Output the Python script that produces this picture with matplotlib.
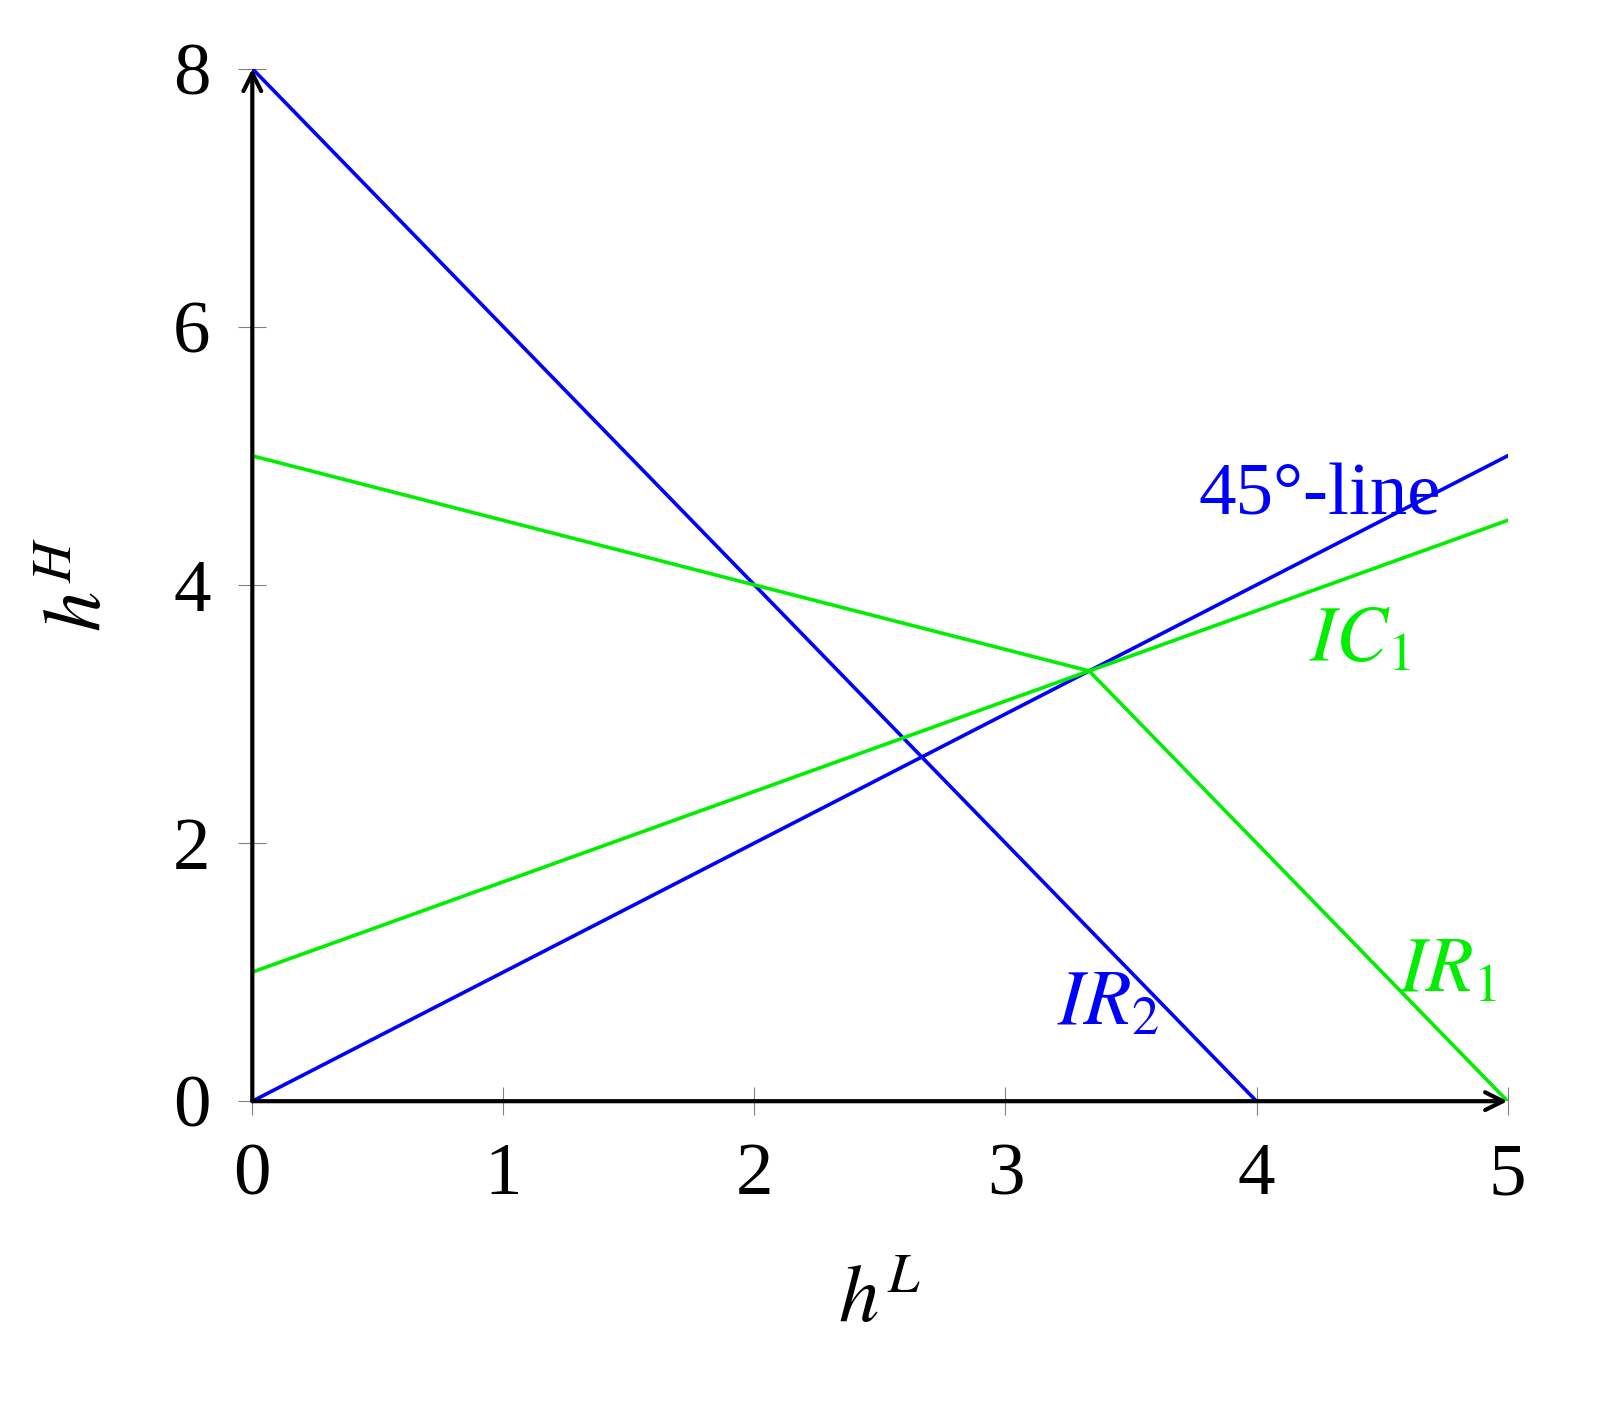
import matplotlib
matplotlib.use("Agg")
import matplotlib.pyplot as plt

plt.rcParams['font.family'] = ['Liberation Serif', 'DejaVu Serif']
plt.rcParams['mathtext.fontset'] = 'stix'

ir2_x = [0, 4]; ir2_y = [8, 0]
line45_x = [0, 5]; line45_y = [0, 5]
ic1_x = [0, 5]; ic1_y = [1, 4.5]
ir1_x = [0, 10/3, 5]; ir1_y = [5, 10/3, 0]
xticks = [0, 1, 2, 3, 4, 5]
yticks = [0, 2, 4, 6, 8]

blue = '#0000ff'; green = '#00ee00'
fig = plt.figure(figsize=(15.97, 14.01), dpi=100)
ax = fig.add_axes([0.158, 0.214, 0.786, 0.737])
ax.plot(ir2_x, ir2_y, color=blue, lw=2.6)
ax.plot(line45_x, line45_y, color=blue, lw=2.6)
ax.plot(ic1_x, ic1_y, color=green, lw=2.6)
ax.plot(ir1_x, ir1_y, color=green, lw=2.6)
ax.set_xlim(0, 5); ax.set_ylim(0, 8)
for s in ax.spines.values():
    s.set_visible(False)
ax.annotate('', xy=(5, 0), xytext=(0, 0), arrowprops=dict(arrowstyle='->', lw=3, color='black', mutation_scale=32, shrinkA=0, shrinkB=0), annotation_clip=False)
ax.annotate('', xy=(0, 8), xytext=(0, 0), arrowprops=dict(arrowstyle='->', lw=3, color='black', mutation_scale=32, shrinkA=0, shrinkB=0), annotation_clip=False)
ax.set_xticks(xticks); ax.set_yticks(yticks)
ax.tick_params(direction='inout', length=20, color='gray', labelsize=54, pad=20)
ax.text(4.25, 4.68, '45°-line', color=blue, fontsize=54, ha='center', va='center')
ax.text(4.41, 3.57, '$IC_1$', color=green, fontsize=56, ha='center', va='center')
ax.text(4.76, 1.0, '$IR_1$', color=green, fontsize=56, ha='center', va='center')
ax.text(3.41, 0.74, '$IR_2$', color=blue, fontsize=56, ha='center', va='center')
ax.set_xlabel('$h^L$', fontsize=58, labelpad=40)
ax.set_ylabel('$h^H$', fontsize=58, labelpad=40)
fig.savefig('out.png', dpi=100)
